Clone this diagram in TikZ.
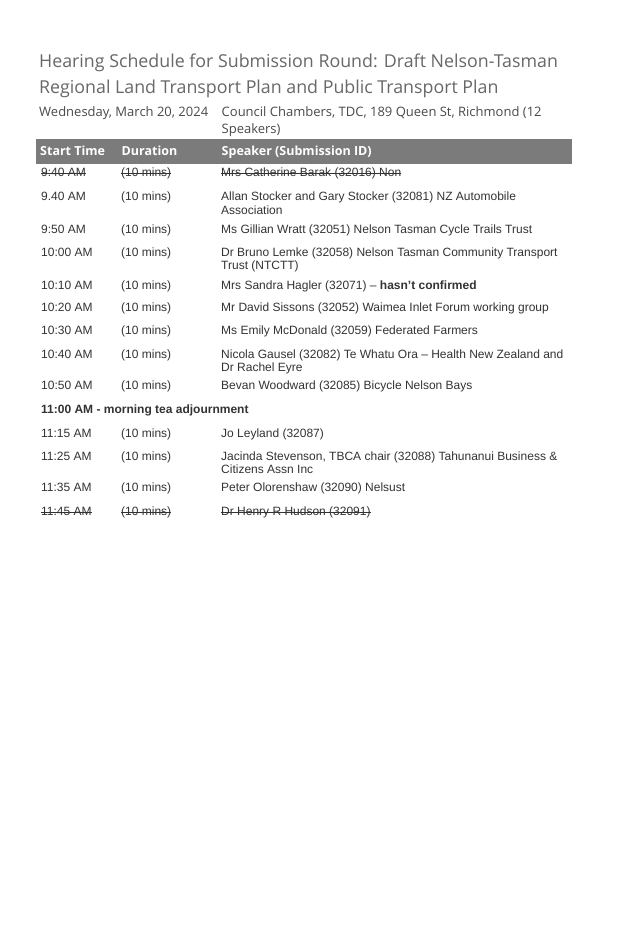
\documentclass[tikz,border=0pt]{standalone}
\usepackage{fontspec}
\setmainfont{Liberation Sans}
\newfontfamily\segfont{Open Sans}
\definecolor{titlec}{HTML}{686868}
\definecolor{subc}{HTML}{4A4A4A}
\definecolor{bodyc}{HTML}{333333}
\definecolor{barc}{HTML}{7B7B7B}
\begin{document}
\begin{tikzpicture}[x=1pt,y=-1pt,
  body/.style={anchor=base west,inner sep=0pt,text=bodyc,font=\fontsize{12}{14}\selectfont},
  ttl/.style={anchor=base west,inner sep=0pt,text=titlec,font=\segfont\fontsize{17.8}{20}\selectfont},
  sub/.style={anchor=base west,inner sep=0pt,text=subc,font=\segfont\fontsize{13}{16}\selectfont},
  hdr/.style={anchor=base west,inner sep=0pt,text=white,font=\segfont\bfseries\fontsize{12.5}{15}\selectfont},
  strk/.style={draw=bodyc,line width=0.6pt}
]
\path[use as bounding box,fill=white] (0,0) rectangle (636,927);

% title
\node[ttl] (title1) at (39,67.3) {Hearing Schedule for Submission Round: Draft Nelson-Tasman};
\node[ttl] (title2) at (39,93.3) {Regional Land Transport Plan and Public Transport Plan};
\node[sub] (date) at (39,116) {Wednesday, March 20, 2024};
\node[sub] (venue1) at (221.5,116) {Council Chambers, TDC, 189 Queen St, Richmond (12};
\node[sub] (venue2) at (221.5,133) {Speakers)};

% header bar
\node[fill=barc,inner sep=0pt,minimum width=536pt,minimum height=25pt] (bar) at (304,151.5) {};
\node[hdr] (hstart) at (40,155.7) {Start Time};
\node[hdr] (hdur) at (121.5,155.7) {Duration};
\node[hdr] (hspk) at (221.5,155.7) {Speaker (Submission ID)};

% rows
\node[body] (t1) at (41,176.3) {9:40 AM};
\node[body] (d1) at (121,176.3) {(10 mins)};
\node[body] (s1) at (221,176.3) {Mrs Catherine Barak (32016) Non};
\foreach \n in {t1,d1,s1}
  \draw[strk] ([yshift=3.4pt]\n.base west) -- ([yshift=3.4pt]\n.base east);

\node[body] (t2) at (41,200.8) {9.40 AM};
\node[body] (d2) at (121,200.8) {(10 mins)};
\node[body] (s2) at (221,200.8) {Allan Stocker and Gary Stocker (32081) NZ Automobile};
\node[body] (s2b) at (221,214) {Association};

\node[body] (t3) at (41,233.8) {9:50 AM};
\node[body] (d3) at (121,233.8) {(10 mins)};
\node[body] (s3) at (221,233.8) {Ms Gillian Wratt (32051) Nelson Tasman Cycle Trails Trust};

\node[body] (t4) at (41,256.3) {10:00 AM};
\node[body] (d4) at (121,256.3) {(10 mins)};
\node[body] (s4) at (221,256.3) {Dr Bruno Lemke (32058) Nelson Tasman Community Transport};
\node[body] (s4b) at (221,269.8) {Trust (NTCTT)};

\node[body] (t5) at (41,289.3) {10:10 AM};
\node[body] (d5) at (121,289.3) {(10 mins)};
\node[body] (s5) at (221,289.3) {Mrs Sandra Hagler (32071) – \textbf{hasn’t confirmed}};

\node[body] (t6) at (41,311.8) {10:20 AM};
\node[body] (d6) at (121,311.8) {(10 mins)};
\node[body] (s6) at (221,311.8) {Mr David Sissons (32052) Waimea Inlet Forum working group};

\node[body] (t7) at (41,334.8) {10:30 AM};
\node[body] (d7) at (121,334.8) {(10 mins)};
\node[body] (s7) at (221,334.8) {Ms Emily McDonald (32059) Federated Farmers};

\node[body] (t8) at (41,358.3) {10:40 AM};
\node[body] (d8) at (121,358.3) {(10 mins)};
\node[body] (s8) at (221,358.3) {Nicola Gausel (32082) Te Whatu Ora – Health New Zealand and};
\node[body] (s8b) at (221,371.8) {Dr Rachel Eyre};

\node[body] (t9) at (41,389.8) {10:50 AM};
\node[body] (d9) at (121,389.8) {(10 mins)};
\node[body] (s9) at (221,389.8) {Bevan Woodward (32085) Bicycle Nelson Bays};

\node[body,font=\bfseries\fontsize{12}{14}\selectfont] (brk) at (41,413.3) {11:00 AM - morning tea adjournment};

\node[body] (t11) at (41,437) {11:15 AM};
\node[body] (d11) at (121,437) {(10 mins)};
\node[body] (s11) at (221,437) {Jo Leyland (32087)};

\node[body] (t12) at (41,460.3) {11:25 AM};
\node[body] (d12) at (121,460.3) {(10 mins)};
\node[body] (s12) at (221,460.3) {Jacinda Stevenson, TBCA chair (32088) Tahunanui Business \&};
\node[body] (s12b) at (221,473.8) {Citizens Assn Inc};

\node[body] (t13) at (41,491.8) {11:35 AM};
\node[body] (d13) at (121,491.8) {(10 mins)};
\node[body] (s13) at (221,491.8) {Peter Olorenshaw (32090) Nelsust};

\node[body] (t14) at (41,515.8) {11:45 AM};
\node[body] (d14) at (121,515.8) {(10 mins)};
\node[body] (s14) at (221,515.8) {Dr Henry R Hudson (32091)};
\foreach \n in {t14,d14,s14}
  \draw[strk] ([yshift=3.4pt]\n.base west) -- ([yshift=3.4pt]\n.base east);
\end{tikzpicture}
\end{document}
